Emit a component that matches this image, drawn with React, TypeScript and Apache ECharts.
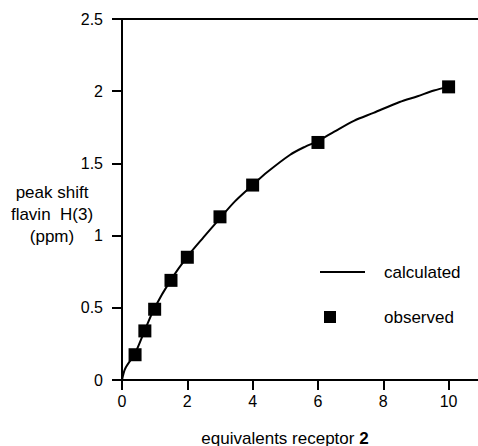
import React, { useEffect, useRef } from "react";
import * as echarts from "echarts";

const xTicks = [0, 2, 4, 6, 8, 10];
const observedX = [0.4, 0.7, 1.0, 1.5, 2.0, 3.0, 4.0, 6.0, 10.0];
const observedY = [0.175, 0.34, 0.49, 0.69, 0.85, 1.13, 1.35, 1.645, 2.03];
const calculatedX = [0, 0.1, 0.4, 0.7, 1.0, 1.5, 2.0, 2.5, 3.0, 3.45, 4.0, 4.45, 5.15, 5.6, 6.0, 6.5, 7.1, 7.7, 8.5, 9.05, 9.55, 10.0];
const calculatedY = [0, 0.08, 0.185, 0.345, 0.5, 0.695, 0.855, 0.99, 1.12, 1.235, 1.35, 1.44, 1.56, 1.615, 1.655, 1.72, 1.795, 1.85, 1.925, 1.965, 2.005, 2.03];
const legendLabels = ["calculated", "observed"];
const yTitle = ["peak shift", "flavin  H(3)", "(ppm)"];

const FONT = "'Liberation Sans', Arial, Helvetica, sans-serif";

export default function App() {
  const ref = useRef<HTMLDivElement>(null);
  useEffect(() => {
    if (!ref.current) return;
    const chart = echarts.init(ref.current, null, { renderer: "svg" });
    const calc = calculatedX.map((x, i) => [x, calculatedY[i]]);
    const obs = observedX.map((x, i) => [x, observedY[i]]);
    chart.setOption({
      animation: false,
      backgroundColor: "#ffffff",
      textStyle: { fontFamily: FONT, color: "#000" },
      grid: { left: 122, right: 0, top: 19, bottom: 66, containLabel: false },
      xAxis: [
        {
          type: "value",
          min: 0,
          max: 10.9,
          interval: 2,
          splitLine: { show: false },
          axisLine: { show: true, onZero: false, lineStyle: { color: "#000", width: 2 } },
          axisTick: { show: true, length: 10, lineStyle: { color: "#000", width: 2 }, customValues: xTicks },
          axisLabel: { color: "#000", fontSize: 16, fontFamily: FONT, margin: 13, customValues: xTicks },
        },
        {
          type: "value",
          position: "top",
          min: 0,
          max: 10.9,
          splitLine: { show: false },
          axisLine: { show: true, onZero: false, lineStyle: { color: "#000", width: 2 } },
          axisTick: { show: false },
          axisLabel: { show: false },
        },
      ],
      yAxis: {
        type: "value",
        min: 0,
        max: 2.5,
        interval: 0.5,
        splitLine: { show: false },
        axisLine: { show: true, onZero: false, lineStyle: { color: "#000", width: 2 } },
        axisTick: { show: true, length: 10, lineStyle: { color: "#000", width: 2 } },
        axisLabel: { color: "#000", fontSize: 16, fontFamily: FONT, margin: 19 },
      },
      series: [
        {
          name: legendLabels[0],
          type: "line",
          data: calc,
          smooth: 0.3,
          showSymbol: false,
          symbol: "none",
          lineStyle: { color: "#000", width: 2 },
          z: 2,
        },
        {
          name: legendLabels[1],
          type: "scatter",
          data: obs,
          symbol: "rect",
          symbolSize: 13,
          itemStyle: { color: "#000", opacity: 1 },
          z: 3,
        },
      ],
      graphic: [
        {
          type: "line",
          shape: { x1: 320, y1: 272, x2: 365, y2: 272 },
          style: { stroke: "#000", lineWidth: 2 },
        },
        {
          type: "text",
          x: 384,
          y: 272,
          style: { text: legendLabels[0], font: `17px ${FONT}`, fill: "#000", textVerticalAlign: "middle", textAlign: "left" },
        },
        {
          type: "rect",
          shape: { x: 324, y: 311, width: 12, height: 12 },
          style: { fill: "#000" },
        },
        {
          type: "text",
          x: 384,
          y: 317,
          style: { text: legendLabels[1], font: `17px ${FONT}`, fill: "#000", textVerticalAlign: "middle", textAlign: "left" },
        },
        {
          type: "text",
          x: 52,
          y: 214,
          style: {
            text: yTitle.join("\n"),
            font: `17px ${FONT}`,
            lineHeight: 22,
            fill: "#000",
            textAlign: "center",
            textVerticalAlign: "middle",
          },
        },
        {
          type: "text",
          x: 285,
          y: 438,
          style: {
            text: "{n|equivalents receptor }{b|2}",
            textAlign: "center",
            textVerticalAlign: "middle",
            rich: {
              n: { fontSize: 17, fontFamily: FONT, color: "#000" },
              b: { fontSize: 17, fontFamily: FONT, fontWeight: "bold", color: "#000" },
            },
          },
        },
      ],
    });
    return () => chart.dispose();
  }, []);
  return (
    <div
      ref={ref}
      style={{ position: "fixed", left: 0, top: 0, width: 478, height: 446 }}
    />
  );
}
